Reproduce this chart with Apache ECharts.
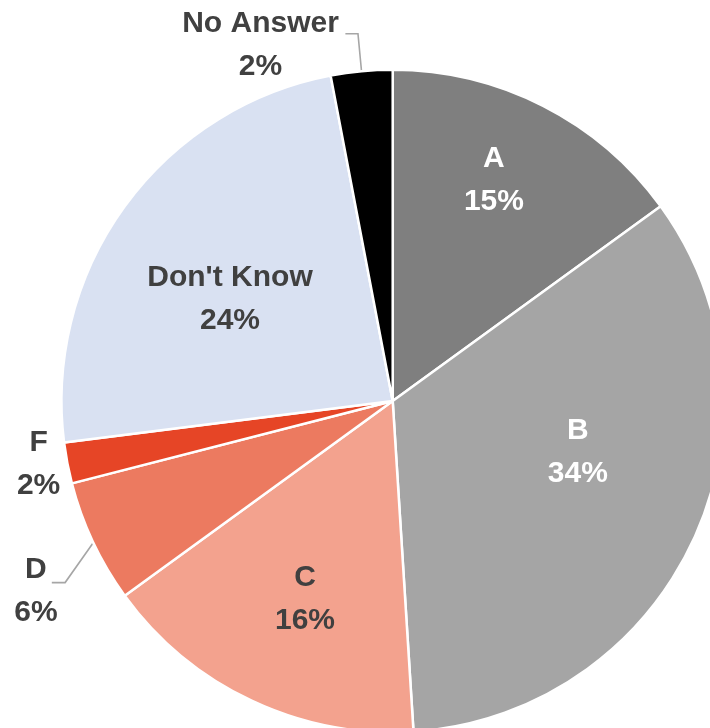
<!DOCTYPE html>
<html>
<head>
<meta charset="utf-8">
<script src="https://cdn.jsdelivr.net/npm/echarts@6/dist/echarts.min.js"></script>
<style>
  html, body { margin: 0; padding: 0; background: #ffffff; }
  #chart { width: 710px; height: 728px; }
</style>
</head>
<body>
<div id="chart"></div>
<script>
// ---- data ----
const categories = ['A', 'B', 'C', 'D', 'F', "Don't Know", 'No Answer'];
const values = [15, 34, 16, 6, 2, 24, 3];
const percentLabels = ['15%', '34%', '16%', '6%', '2%', '24%', '2%'];

// ---- style / layout ----
const colors = ['#7f7f7f', '#a5a5a5', '#f3a28e', '#ec7a60', '#e64526', '#d9e1f2', '#000000'];
const textColors = ['#ffffff', '#ffffff', '#404040', '#404040', '#404040', '#404040', '#404040'];
const CX = 392.7, CY = 401, R = 330;
// label placement relative to slice mid-angle: [angle offset (deg), radius factor]
const placement = {
  'A': [-2.4, 0.737],
  'B': [-9.8, 0.582],
  'C': [-1.3, 0.656],
  'D': [-2.84, 1.225],
  'F': [0.7, 1.09],
  "Don't Know": [-3.9, 0.582],
  'No Answer': [-15, 1.149]
};
const outside = { 'D': true, 'F': true, 'No Answer': true };
const withLine = { 'D': true, 'No Answer': true };

const total = values.reduce((a, b) => a + b, 0);
const midAngles = [];
(function () {
  let acc = 0;
  values.forEach(v => { midAngles.push((acc + v / 2) / total * 360); acc += v; });
})();
function polar(angDeg, r) {
  const a = angDeg * Math.PI / 180;
  return [CX + r * Math.sin(a), CY - r * Math.cos(a)];
}

const chart = echarts.init(document.getElementById('chart'), null, { renderer: 'canvas' });

const data = categories.map((name, i) => ({
  name: name,
  value: values[i],
  itemStyle: { color: colors[i] },
  label: {
    position: outside[name] ? 'outside' : 'inside',
    color: textColors[i]
  },
  labelLine: { show: !!withLine[name] }
}));

chart.setOption({
  animation: false,
  backgroundColor: '#ffffff',
  series: [{
    type: 'pie',
    center: [CX, CY],
    radius: R + 1.25,
    startAngle: 90,
    clockwise: true,
    avoidLabelOverlap: false,
    silent: true,
    itemStyle: { borderColor: '#ffffff', borderWidth: 2.5 },
    label: {
      show: true,
      formatter: p => p.name + '\n' + percentLabels[p.dataIndex],
      fontFamily: '"Liberation Sans Narrow", "Arial Narrow", "Liberation Sans", Arial, sans-serif',
      fontWeight: 'bold',
      fontSize: 30,
      lineHeight: 43,
      align: 'center'
    },
    labelLine: {
      show: true,
      lineStyle: { color: '#a6a6a6', width: 1.6 }
    },
    labelLayout: function (p) {
      const i = p.dataIndex;
      const name = categories[i];
      const pl = placement[name];
      const pos = polar(midAngles[i] + pl[0], R * pl[1]);
      const res = { x: pos[0], y: pos[1], align: 'center', verticalAlign: 'middle' };
      if (withLine[name]) {
        const p0 = polar(midAngles[i], R);
        let p1, p2;
        if (name === 'No Answer') {
          p1 = polar(midAngles[i], R * 1.118);
          p2 = [p1[0] - 12.6, p1[1]];
        } else {
          p1 = polar(midAngles[i] - 3.8, R * 1.135);
          p2 = [p1[0] - 13.3, p1[1]];
        }
        res.labelLinePoints = [p0, p1, p2];
      }
      return res;
    },
    data: data
  }]
});
</script>
</body>
</html>
